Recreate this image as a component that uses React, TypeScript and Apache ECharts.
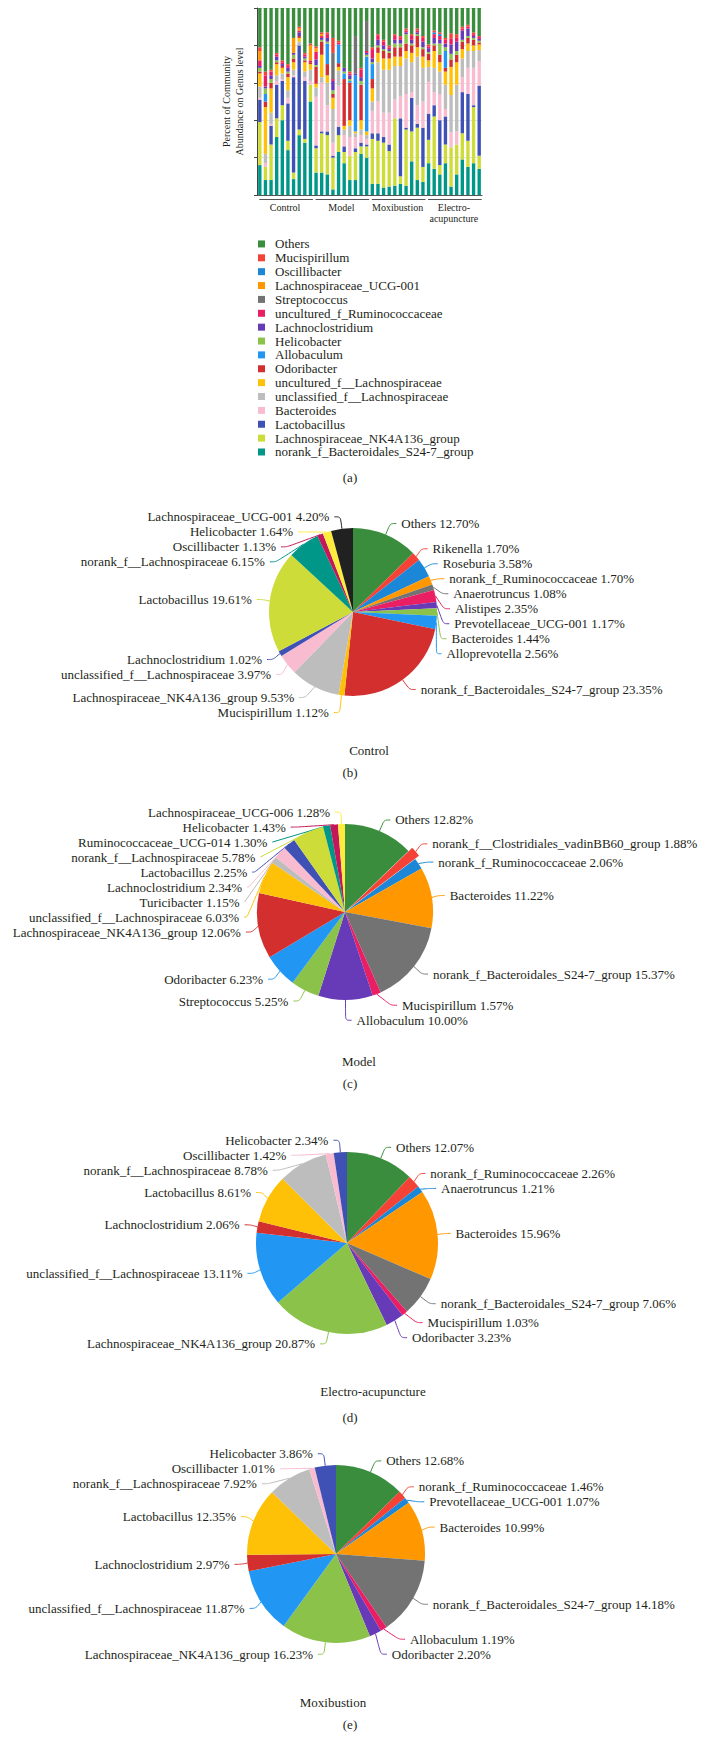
import React, { useEffect, useRef } from "react";
import * as echarts from "echarts";

// ---------- Stacked bar (a) ----------
const samples = [
  "C1", "C2", "C3", "C4", "C5", "C6", "C7", "C8", "C9", "C10",
  "M1", "M2", "M3", "M4", "M5", "M6", "M7", "M8", "M9", "M10",
  "X1", "X2", "X3", "X4", "X5", "X6", "X7", "X8", "X9", "X10",
  "E1", "E2", "E3", "E4", "E5", "E6", "E7", "E8", "E9", "E10",
];
const groups = ["Control", "Model", "Moxibustion", "Electro-\nacupuncture"];
const groupFirst = ["C1", "M1", "X1", "E1"];
const groupLast = ["C10", "M10", "X10", "E10"];

// bottom -> top of each stack
const barCategories = [
  "norank_f_Bacteroidales_S24-7_group",
  "Lachnospiraceae_NK4A136_group",
  "Lactobacillus",
  "Bacteroides",
  "unclassified_f__Lachnospiraceae",
  "uncultured_f__Lachnospiraceae",
  "Odoribacter",
  "Allobaculum",
  "Helicobacter",
  "Lachnoclostridium",
  "uncultured_f_Ruminococcaceae",
  "Streptococcus",
  "Lachnospiraceae_UCG-001",
  "Oscillibacter",
  "Mucispirillum",
  "Others",
];

const s24_7 = [16, 8, 8, 31, 40, 24, 8.5, 32, 28, 50, 12, 12, 11, 3, 23, 17, 8, 8, 22, 20, 6, 6, 4, 4.5, 5, 6, 5, 18, 8, 7, 17, 14, 11, 17, 4.5, 11, 19, 15, 17, 14];
const nk4a136 = [23, 7, 19, 10, 8, 5, 3.5, 3, 2, 9, 13, 21, 21, 17, 9, 6, 13, 15, 4, 6, 24, 23, 24, 19, 36, 4, 30, 16, 28, 8, 12.5, 28, 5, 10, 21, 16, 14, 14, 30, 7];
const lactobacillus = [12, 0, 10, 18, 13, 20, 51, 45, 31, 0, 1.5, 1, 2, 1, 4.5, 3, 0, 2, 2, 1, 3, 4, 3, 3.5, 0, 31, 1, 18, 2, 21, 14, 6, 24, 15, 0, 0, 22, 25, 1, 37.5];
const bacteroides = [1, 2, 1, 2, 1, 3, 1, 0, 2, 2, 26, 26, 14, 7, 22, 6, 10, 6, 4, 3, 12, 17, 13, 17, 10, 12, 18, 3, 10, 14, 17, 7, 14, 4, 8, 7, 8, 14, 20, 13];
const unclassifiedLachno = [6, 5, 6, 3, 3, 4, 3, 2, 3, 6, 5, 3, 12, 18, 8, 3, 6, 2, 3, 2, 5, 21, 23, 23, 18, 16, 19, 16, 26, 18, 8, 13, 12, 13, 20, 25, 10, 9, 9, 6];
const unculturedLachno = [7, 25, 13, 6, 3, 7, 4, 2, 5, 3, 2, 12, 4, 6, 2, 2, 3, 1, 5, 2, 7, 5, 6, 6, 5, 5, 4, 5, 5, 6, 3.5, 9, 5, 7, 15, 12, 5, 4, 3, 3];
const odoribacter = [1, 3, 3, 1, 1, 2, 2, 1, 1, 1, 9, 7, 6, 2, 2, 25, 20, 0, 19, 0, 5, 3, 4, 3, 5, 5, 4, 4, 6, 4, 3.5, 3, 4, 2, 4, 4, 4, 3, 3, 1];
const allobaculum = [0, 4, 0, 0, 0, 0, 0, 0, 0, 0, 0, 0, 11, 0, 10, 3, 1, 30, 0, 40, 8, 0, 0, 0, 0, 0, 0, 0, 0, 0, 0, 0, 0, 9, 0, 0, 0, 0, 0, 0];
const helicobacter = [2, 3, 2, 1, 0, 1, 2, 0, 1, 0, 1, 1, 1, 2, 0, 1, 1, 0, 2, 1, 1, 1, 1, 1, 2, 2, 5, 1, 1, 1, 1, 1, 6, 2, 3, 2, 1, 1, 1, 1];
const lachnoclostridium = [1, 1, 2, 2, 1, 2, 1, 2, 1, 0, 3, 1, 2, 5, 0, 2, 2, 1, 2, 1, 2, 3, 2, 1, 2, 2, 1, 2, 1, 3, 2, 3, 2, 2, 5, 5, 5, 4, 1, 1];
const unculturedRumino = [3, 6, 2, 1, 1, 1, 0, 1, 1, 1, 4, 1, 2, 1, 1, 0, 1, 0, 4, 1, 5, 2, 2, 1, 2, 1, 1, 2, 1, 2, 1, 2, 2, 2, 3, 2, 1, 1, 1, 1];
const streptococcus = [0, 0, 0, 0, 0, 0, 0, 0, 0, 0, 0, 0, 0, 14, 0, 0, 0, 20, 0, 16, 0, 0, 0, 0, 0, 0, 0, 0, 0, 0, 0, 0, 0, 0, 0, 0, 0, 0, 0, 0];
const ucg001 = [5, 0, 0, 0, 0, 0, 8, 1, 0, 8, 2, 1, 0, 0, 0, 0, 0, 0, 0, 0, 0, 0, 0, 0, 0, 0, 0, 0, 0, 0, 0, 0, 0, 0, 0, 0, 0, 0, 0, 0];
const oscillibacter = [0, 0, 0, 0, 0, 0, 0, 0, 0, 0, 0, 0, 0, 0, 0, 0, 0, 0, 0, 0, 0, 0, 0, 0, 0, 0, 0, 0, 0, 0, 0, 1, 1, 0, 0, 0, 0, 0, 0, 0];
const mucispirillum = [2, 2, 1, 1, 1, 1, 0, 1, 1, 1, 1, 1, 1, 8, 1, 0, 1, 0, 1, 0, 1, 1, 1, 1, 1, 1, 1, 1, 1, 1, 1, 1, 1, 1, 3, 2, 1, 1, 1, 0.5];
const others = [21, 34, 33, 24, 28, 30, 16, 10, 24, 19, 20.5, 13, 13, 16, 17.5, 32, 34, 15, 32, 7, 21, 14, 17, 20, 14, 15, 11, 14, 11, 15, 19.5, 12, 13, 16, 13.5, 14, 10, 9, 13, 15];

const barValues = [
  s24_7, nk4a136, lactobacillus, bacteroides, unclassifiedLachno, unculturedLachno,
  odoribacter, allobaculum, helicobacter, lachnoclostridium, unculturedRumino,
  streptococcus, ucg001, oscillibacter, mucispirillum, others,
];

// ---------- Pies ----------
const palette = [
  "#3a8d3d", "#f44336", "#1b87d6", "#ff9800", "#737373", "#e91e63", "#673ab7",
  "#8bc34a", "#2196f3", "#d32f2f", "#ffc107", "#bdbdbd", "#f8bbd0", "#3f51b5",
  "#cddc39", "#009688", "#c2185b", "#ffeb3b", "#212121",
];

const controlNames = [
  "Others", "Rikenella", "Roseburia", "norank_f_Ruminococcaceae", "Anaerotruncus",
  "Alistipes", "Prevotellaceae_UCG-001", "Bacteroides", "Alloprevotella",
  "norank_f_Bacteroidales_S24-7_group", "Mucispirillum", "Lachnospiraceae_NK4A136_group",
  "unclassified_f__Lachnospiraceae", "Lachnoclostridium", "Lactobacillus",
  "norank_f__Lachnospiraceae", "Oscillibacter", "Helicobacter", "Lachnospiraceae_UCG-001",
];
const controlValues = [12.7, 1.7, 3.58, 1.7, 1.08, 2.35, 1.17, 1.44, 2.56, 23.35, 1.12, 9.53, 3.97, 1.02, 19.61, 6.15, 1.13, 1.64, 4.2];

const modelNames = [
  "Others", "norank_f__Clostridiales_vadinBB60_group", "norank_f_Ruminococcaceae", "Bacteroides",
  "norank_f_Bacteroidales_S24-7_group", "Mucispirillum", "Allobaculum", "Streptococcus",
  "Odoribacter", "Lachnospiraceae_NK4A136_group", "unclassified_f__Lachnospiraceae",
  "Turicibacter", "Lachnoclostridium", "Lactobacillus", "norank_f__Lachnospiraceae",
  "Ruminococcaceae_UCG-014", "Helicobacter", "Lachnospiraceae_UCG-006",
];
const modelValues = [12.82, 1.88, 2.06, 11.22, 15.37, 1.57, 10.0, 5.25, 6.23, 12.06, 6.03, 1.15, 2.34, 2.25, 5.78, 1.3, 1.43, 1.28];

const electroNames = [
  "Others", "norank_f_Ruminococcaceae", "Anaerotruncus", "Bacteroides",
  "norank_f_Bacteroidales_S24-7_group", "Mucispirillum", "Odoribacter",
  "Lachnospiraceae_NK4A136_group", "unclassified_f__Lachnospiraceae", "Lachnoclostridium",
  "Lactobacillus", "norank_f__Lachnospiraceae", "Oscillibacter", "Helicobacter",
];
const electroValues = [12.07, 2.26, 1.21, 15.96, 7.06, 1.03, 3.23, 20.87, 13.11, 2.06, 8.61, 8.78, 1.42, 2.34];

const moxaNames = [
  "Others", "norank_f_Ruminococcaceae", "Prevotellaceae_UCG-001", "Bacteroides",
  "norank_f_Bacteroidales_S24-7_group", "Allobaculum", "Odoribacter",
  "Lachnospiraceae_NK4A136_group", "unclassified_f__Lachnospiraceae", "Lachnoclostridium",
  "Lactobacillus", "norank_f__Lachnospiraceae", "Oscillibacter", "Helicobacter",
];
const moxaValues = [12.68, 1.46, 1.07, 10.99, 14.18, 1.19, 2.2, 16.23, 11.87, 2.97, 12.35, 7.92, 1.01, 3.86];

const captions = [
  { text: "(a)", x: 350, y: 477 },
  { text: "Control", x: 369, y: 750 },
  { text: "(b)", x: 350, y: 772 },
  { text: "Model", x: 359, y: 1061 },
  { text: "(c)", x: 350, y: 1083 },
  { text: "Electro-acupuncture", x: 373, y: 1391 },
  { text: "(d)", x: 350, y: 1417 },
  { text: "Moxibustion", x: 333, y: 1702 },
  { text: "(e)", x: 350, y: 1724 },
];

const FONT = "Liberation Serif";
const INK = "#231f20";

export default function App() {
  const ref = useRef<HTMLDivElement>(null);
  useEffect(() => {
    const chart = echarts.init(ref.current as HTMLDivElement, null, { renderer: "svg" });
    const barColors = palette.slice(0, 16).reverse();

    const barSeries = barCategories.map((name, i) => ({
      name,
      type: "bar",
      stack: "total",
      data: barValues[i],
      barWidth: "60%",
      itemStyle: { color: barColors[i] },
      silent: true,
    }));

    const makePie = (names: string[], values: number[], center: number[], r: number, explode: number) => ({
      type: "pie",
      center,
      radius: r,
      startAngle: 90,
      clockwise: true,
      silent: true,
      selectedMode: "multiple",
      selectedOffset: 5,
      avoidLabelOverlap: true,
      data: names.map((n, i) => ({
        name: n,
        value: values[i],
        selected: i === explode,
        itemStyle: { color: palette[i] },
      })),
      label: {
        show: true,
        position: "outside",
        formatter: (p: any) => `${p.name} ${Number(p.value).toFixed(2)}%`,
        fontFamily: FONT,
        fontSize: 13,
        color: INK,
        overflow: "none",
      },
      labelLine: { show: true, length: 12, length2: 6, smooth: 0.3, lineStyle: { width: 1 } },
    });

    chart.setOption({
      animation: false,
      textStyle: { fontFamily: FONT, color: INK },
      grid: { left: 257, top: 8, width: 225, height: 187 },
      xAxis: {
        type: "category",
        data: samples,
        axisLabel: { show: false },
        axisTick: { show: false },
        axisLine: { lineStyle: { color: "#555", width: 1 } },
      },
      yAxis: {
        type: "value",
        min: 0,
        max: 100,
        interval: 20,
        axisLabel: { show: false },
        axisLine: { show: true, lineStyle: { color: "#444", width: 1 } },
        axisTick: { show: true, length: 3, lineStyle: { color: "#444" } },
        splitLine: { show: true, lineStyle: { color: "#e4e4e4" } },
        name: "Percent of Community\nAbundance on Genus level",
        nameLocation: "middle",
        nameRotate: 90,
        nameGap: 11,
        nameTextStyle: { fontFamily: FONT, fontSize: 10, lineHeight: 13, color: INK },
      },
      legend: {
        orient: "vertical",
        left: 258,
        top: 237,
        padding: 0,
        itemWidth: 7,
        itemHeight: 7,
        itemGap: 0,
        icon: "rect",
        selectedMode: false,
        data: [...barCategories].reverse(),
        textStyle: { fontFamily: FONT, fontSize: 13, lineHeight: 13.87, color: INK, padding: [0, 0, 0, 5] },
      },
      series: [
        ...barSeries,
        makePie(controlNames, controlValues, [353, 612], 84, -1),
        makePie(modelNames, modelValues, [345, 912], 88, 1),
        makePie(electroNames, electroValues, [347, 1243], 91, -1),
        makePie(moxaNames, moxaValues, [336, 1554], 89, -1),
      ],
    });

    // group brackets + group labels placed through the category axis scale
    const yBase = chart.convertToPixel({ yAxisIndex: 0 }, 0) as number;
    const elements: any[] = [];
    groups.forEach((g, i) => {
      const x0 = chart.convertToPixel({ xAxisIndex: 0 }, groupFirst[i]) as number;
      const x1 = chart.convertToPixel({ xAxisIndex: 0 }, groupLast[i]) as number;
      elements.push({
        type: "line",
        silent: true,
        shape: { x1: x0 - 0.5, y1: yBase + 4.5, x2: x1 + 2.5, y2: yBase + 4.5 },
        style: { stroke: "#555", lineWidth: 1 },
      });
      elements.push({
        type: "text",
        silent: true,
        x: (x0 + x1) / 2,
        y: yBase + 7,
        style: {
          text: g,
          fontFamily: FONT,
          fontSize: 10,
          lineHeight: 11,
          fill: INK,
          textAlign: "center",
          textVerticalAlign: "top",
        },
      });
    });
    captions.forEach((c) => {
      elements.push({
        type: "text",
        silent: true,
        x: c.x,
        y: c.y,
        style: {
          text: c.text,
          fontFamily: FONT,
          fontSize: 13,
          fill: INK,
          textAlign: "center",
          textVerticalAlign: "middle",
        },
      });
    });
    chart.setOption({ graphic: { elements } });

    return () => chart.dispose();
  }, []);

  return (
    <div
      ref={ref}
      style={{ position: "absolute", left: 0, top: 0, width: 704, height: 1751 }}
    />
  );
}
